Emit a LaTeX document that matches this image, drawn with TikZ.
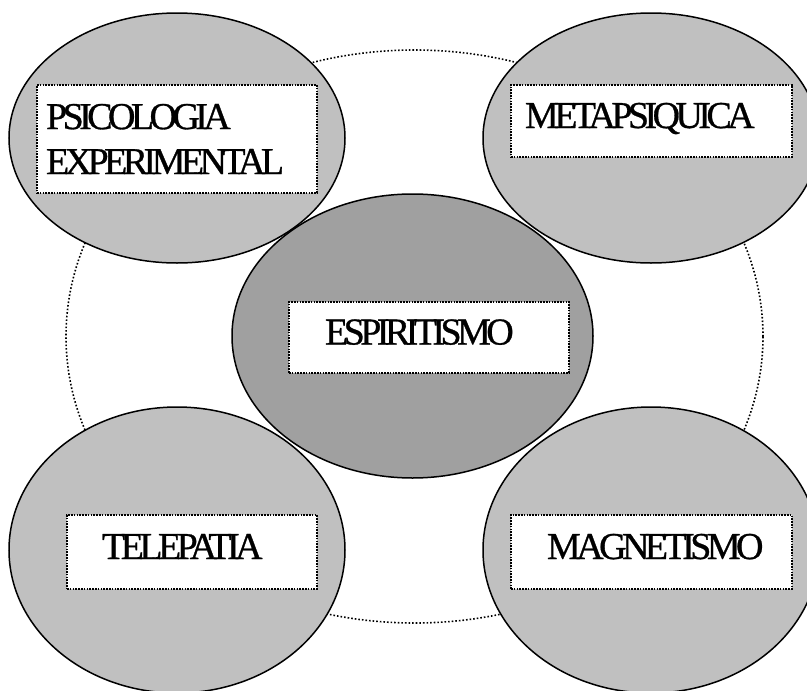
\documentclass[tikz,border=0pt]{standalone}
\usepackage{fontspec}
\setmainfont{Liberation Serif}[LetterSpace=-12, FakeBold=0.8]
\usepackage{tikz}
\usetikzlibrary{positioning}
\definecolor{outergray}{RGB}{192,192,192}
\definecolor{coregray}{RGB}{160,160,160}

\begin{document}
\begin{tikzpicture}[x=1pt, y=-1pt,
    blob/.style={draw=black, line width=1.5pt},
    tagbox/.style={draw=black, fill=white, line width=1.6pt, dash pattern=on 1.6pt off 1.2pt,
        font=\fontsize{38}{45}\selectfont, align=left, inner ysep=0pt},
    onerow/.style={text height=27pt, text depth=13pt}]
    \useasboundingbox (0, 0) rectangle (807, 691);

    % Ring behind everything (dotted)
    \draw[line width=1.6pt, dash pattern=on 1.6pt off 2pt] (414.5, 336.5) ellipse [x radius=348.5pt, y radius=286.5pt];

    % Outer ellipses
    \filldraw[blob, fill=outergray] (177, 138) ellipse [x radius=168pt, y radius=125pt];
    \filldraw[blob, fill=outergray] (651, 138) ellipse [x radius=168pt, y radius=125pt];
    \filldraw[blob, fill=outergray] (177, 550) ellipse [x radius=168pt, y radius=143pt];
    \filldraw[blob, fill=outergray] (651, 550) ellipse [x radius=168pt, y radius=143pt];

    % Core ellipse
    \filldraw[blob, fill=coregray] (412.5, 336) ellipse [x radius=180.5pt, y radius=142pt];

    % Labels
    \node[tagbox, text width=262pt, inner xsep=9pt, minimum height=108pt] (psico) at (177, 139) {PSICOLOGIA\\EXPERIMENTAL};
    \node[tagbox, onerow, text width=253pt, inner xsep=14pt, minimum height=72pt] (meta) at (651.5, 121) {METAPSIQUICA};
    \node[tagbox, onerow, text width=208pt, inner xsep=36pt, minimum height=71pt] (espi) at (429, 337.5) {ESPIRITISMO};
    \node[tagbox, onerow, text width=180pt, inner xsep=35pt, minimum height=74pt] (tele) at (192, 552) {TELEPATIA};
    \node[tagbox, onerow, text width=209pt, inner xsep=36pt, minimum height=74pt] (magne) at (651.5, 552) {MAGNETISMO};
\end{tikzpicture}
\end{document}
